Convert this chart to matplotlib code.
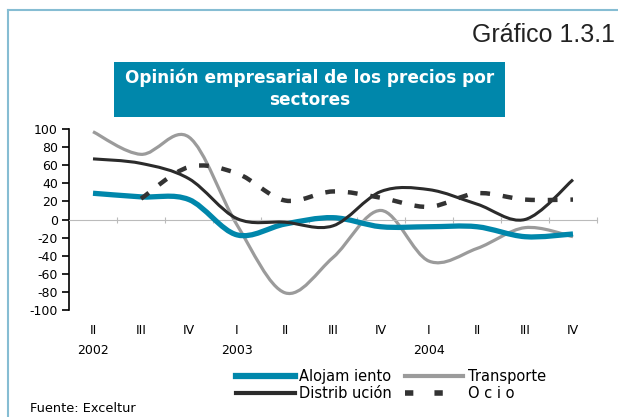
import matplotlib.pyplot as plt
import numpy as np
from matplotlib.path import Path
from matplotlib.patches import PathPatch, Rectangle
from matplotlib.lines import Line2D
import matplotlib.transforms as mtransforms

plt.rcParams['font.family'] = ['DejaVu Sans']
plt.rcParams['axes.unicode_minus'] = False

# quarters from II 2002 to IV 2004
quarters = ['II', 'III', 'IV', 'I', 'II', 'III', 'IV', 'I', 'II', 'III', 'IV']
years = ['2002', '2003', '2004']
year_pos = [0, 3, 7]

alojamiento = [29, 25, 22, -17, -5, 2, -8, -8, -8, -19, -16]
transporte = [97, 72, 91, -6, -81, -42, 10, -46, -32, -9, -19]
distribucion = [67, 62, 45, 1, -3, -7, 31, 33, 17, 0, 44]
ocio = [None, 23, 58, 51, 21, 31, 24, 14, 29, 22, 22]

teal = '#0087AB'
frame_col = '#86BDD3'


def smooth_path(xs, ys):
    # Excel style smoothed line: cubic bezier through every point
    pts = np.column_stack([xs, ys]).astype(float)
    n = len(pts)
    verts = [pts[0]]
    codes = [Path.MOVETO]
    for i in range(n - 1):
        p0 = pts[i - 1] if i > 0 else pts[i]
        p1 = pts[i]
        p2 = pts[i + 1]
        p3 = pts[i + 2] if i + 2 < n else pts[i + 1]
        c1 = p1 + (p2 - p0) / 6.0
        c2 = p2 - (p3 - p1) / 6.0
        verts += [c1, c2, p2]
        codes += [Path.CURVE4] * 3
    return Path(verts, codes)


def add_series(ax, vals, **kw):
    xs = [i for i, v in enumerate(vals) if v is not None]
    ys = [v for v in vals if v is not None]
    patch = PathPatch(smooth_path(xs, ys), fill=False, capstyle='butt', **kw)
    ax.add_patch(patch)


fig = plt.figure(figsize=(6.18, 4.17), dpi=100)

# frame lines
fig.add_artist(Line2D([8 / 618, 8 / 618], [0, 1 - 10 / 417], color=frame_col, lw=1.5))
fig.add_artist(Line2D([8 / 618, 1], [1 - 10 / 417, 1 - 10 / 417], color=frame_col, lw=1.5))

fig.text(615 / 618, 1 - 35 / 417, 'Gráfico 1.3.1', ha='right', va='center',
         fontsize=18, color='#222222', family=['Liberation Sans Narrow', 'Liberation Sans'])

# title box
fig.add_artist(Rectangle((114 / 618, 1 - 117 / 417), 391 / 618, 55 / 417,
                         transform=fig.transFigure, color=teal, lw=0))
fig.text(310 / 618, 1 - 89 / 417, 'Opinión empresarial de los precios por\nsectores',
         ha='center', va='center', fontsize=12.2, fontweight='bold', color='white',
         linespacing=1.3)

ax = fig.add_axes([69 / 618, 1 - 310 / 417, 528 / 618, 181 / 417])
ax.set_xlim(-0.5, 10.5)
ax.set_ylim(-100, 100)

add_series(ax, transporte, edgecolor='#9B9B9B', lw=2.3, zorder=2)
add_series(ax, alojamiento, edgecolor=teal, lw=3.8, zorder=3)
add_series(ax, distribucion, edgecolor='#2B2B2B', lw=2.2, zorder=4)
add_series(ax, ocio, edgecolor='#333333', lw=3.2, linestyle=(0, (2.2, 2.9)), zorder=4)

for s in ['top', 'right']:
    ax.spines[s].set_visible(False)
ax.spines['bottom'].set_position(('data', 0))
ax.spines['bottom'].set_color('#BBBBBB')
ax.spines['bottom'].set_linewidth(0.8)
ax.spines['left'].set_linewidth(1.2)

ax.set_yticks(np.arange(-100, 101, 20))
ax.tick_params(axis='y', direction='out', length=5, width=1.2, labelsize=9, pad=3)
ax.set_xticks(np.arange(0.5, 10.6, 1))
ax.set_xticklabels([])
ax.tick_params(axis='x', direction='inout', length=5, width=0.8, color='#BBBBBB')

trans = mtransforms.blended_transform_factory(ax.transData, fig.transFigure)
for i, q in enumerate(quarters):
    fig.text(0, 0, q, transform=trans, fontsize=9, ha='center', va='center').set_position((i, 1 - 331 / 417))
for p, y in zip(year_pos, years):
    fig.text(0, 0, y, transform=trans, fontsize=9, ha='center', va='center').set_position((p, 1 - 350 / 417))

handles = [
    Line2D([], [], color=teal, lw=4.5),
    Line2D([], [], color='#2B2B2B', lw=3),
    Line2D([], [], color='#9B9B9B', lw=3),
    Line2D([], [], color='#333333', lw=4, linestyle=(0, (1.5, 3.8))),
]
labels = ['Alojam iento', 'Distrib ución', 'Transporte', 'O c i o']
fig.legend(handles, labels, ncol=2, loc='upper left', bbox_to_anchor=(229 / 618, 1 - 362 / 417),
           frameon=False, fontsize=10.5, handlelength=4.0, handletextpad=0.3,
           columnspacing=0.9, labelspacing=0.15, borderpad=0)

fig.text(30 / 618, 1 - 408 / 417, 'Fuente: Exceltur', fontsize=9.3, ha='left', va='center')

fig.savefig('out.png', dpi=100)
